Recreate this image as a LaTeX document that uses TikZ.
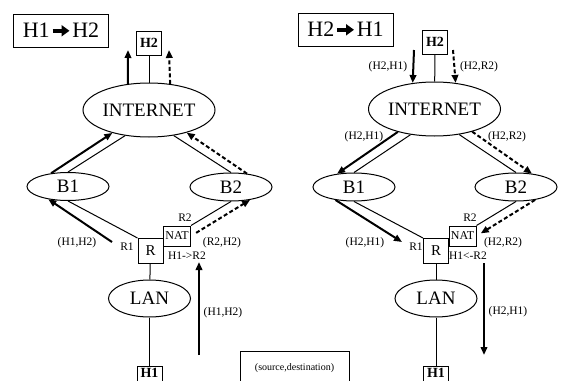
\documentclass[tikz,border=0pt]{standalone}
\usepackage{fontspec}
\setmainfont{Liberation Serif}
\usetikzlibrary{arrows.meta,shapes.geometric}
\newcommand\ttlarrow{\kern1pt\tikz[baseline=-7pt]\draw[line width=3.5pt,-{Triangle[length=8pt,width=11pt]}] (0pt,0pt)--(17pt,0pt);\kern1pt}
\begin{document}
\begin{tikzpicture}[x=1pt,y=-1pt,
  thinline/.style={line width=1pt},
  flow/.style={line width=2pt,-{Triangle[length=8pt,width=6.5pt]}},
  dflow/.style={flow,dash pattern=on 4pt off 2.5pt},
  oval/.style={draw,ellipse,line width=1pt,inner sep=0pt,font=\fontsize{19}{19}\selectfont},
  titlebox/.style={draw,line width=1pt,inner sep=0pt,minimum width=95pt,minimum height=33pt,font=\fontsize{22}{22}\selectfont},
  host/.style={draw,line width=1pt,inner sep=0pt,minimum width=25pt,minimum height=24pt,font=\bfseries\fontsize{14}{14}\selectfont},
  hostcut/.style={host,anchor=north,minimum height=0pt,inner ysep=2pt,text height=9pt,text depth=12pt},
  rbox/.style={draw,line width=1pt,inner sep=0pt,minimum width=25pt,minimum height=25pt,font=\fontsize{15}{15}\selectfont},
  natbox/.style={draw,line width=1pt,inner sep=0pt,minimum width=27pt,minimum height=20pt,anchor=west,font=\fontsize{12}{12}\selectfont},
  lbl/.style={inner sep=0pt,font=\fontsize{11.5}{11.5}\selectfont},
]
\useasboundingbox (0,0) rectangle (567,380);

% ---------------- left panel: H1 -> H2 ----------------
\node[titlebox] (t1) at (61,30.5) {H1\ttlarrow H2};
\node[host] (h2l) at (149,43) {H2};
\node[oval,minimum width=132pt,minimum height=54pt] (intl) at (149,110) {INTERNET};
\node[oval,minimum width=82pt,minimum height=28pt] (b1l) at (68,186.5) {B1};
\node[oval,minimum width=82pt,minimum height=28pt] (b2l) at (231,187) {B2};
\node[rbox] (rl) at (150.5,251) {R};
\node[natbox] (natl) at (163,236) {NAT};
\node[oval,minimum width=82pt,minimum height=37pt] (lanl) at (149.5,298.5) {LAN};
\node[hostcut] (h1l) at (149.5,366) {H1};

\draw[thinline] (h2l) -- (intl);
\draw[thinline] (intl.227) -- (b1l.north);
\draw[thinline] (intl.-46) -- (b2l.north);
\draw[thinline] (rl.north west) -- (b1l.south);
\draw[thinline] (natl.north east) -- (b2l.south);
\draw[thinline] (rl) -- (lanl);
\draw[thinline] (lanl) -- (h1l);

\coordinate (upl1) at (128,50);
\coordinate (upl2) at (169,50);
\coordinate (al1) at (112,242);
\coordinate (ul1) at (199,355);
\coordinate (ul2) at (199,262);
\draw[flow] (intl.129) -- (upl1);
\draw[dflow] (intl.51) -- (upl2);
\draw[flow] (b1l.142) -- (intl.212);
\draw[dflow] (b2l.40) -- (intl.-31);
\draw[flow] (al1) -- (b1l.213);
\draw[dflow,shorten <=6pt] (natl.east) -- (b2l.-34);
\draw[flow] (ul1) -- (ul2);

\node[lbl] (r1l) at (127,247) {R1};
\node[lbl] (r2l) at (185,218) {R2};
\node[lbl] (hl1) at (77,243) {(H1,H2)};
\node[lbl] (hl2) at (222,243) {(R2,H2)};
\node[lbl] (hl3) at (187,256) {H1->R2};
\node[lbl] (hl4) at (223,313) {(H1,H2)};

\node[draw,line width=0.8pt,anchor=north,minimum width=109pt,inner xsep=0pt,inner ysep=10pt,text height=9pt,text depth=10pt,font=\fontsize{10}{10}\selectfont] (leg) at (294.5,351) {(source,destination)};

% ---------------- right panel: H2 -> H1 ----------------
\node[titlebox] (t2) at (345.5,29.5) {H2\ttlarrow H1};
\node[host] (h2r) at (435,42) {H2};
\node[oval,minimum width=132pt,minimum height=54pt] (intr) at (434.5,109) {INTERNET};
\node[oval,minimum width=82pt,minimum height=28pt] (b1r) at (354,187) {B1};
\node[oval,minimum width=82pt,minimum height=28pt] (b2r) at (516,187) {B2};
\node[rbox] (rr) at (436,251) {R};
\node[natbox] (natr) at (448.5,236) {NAT};
\node[oval,minimum width=82pt,minimum height=37pt] (lanr) at (436,298.5) {LAN};
\node[hostcut] (h1r) at (436,366) {H1};

\draw[thinline] (h2r) -- (intr);
\draw[thinline] (intr.227) -- (b1r.north);
\draw[thinline] (intr.-46) -- (b2r.north);
\draw[thinline] (rr.north west) -- (b1r.south);
\draw[thinline] (natr.north east) -- (b2r.south);
\draw[thinline] (rr) -- (lanr);
\draw[thinline] (lanr) -- (h1r);

\coordinate (dr1) at (414,50);
\coordinate (dr2) at (453,50);
\coordinate (ar1) at (402,242);
\coordinate (dd1) at (484,263);
\coordinate (dd2) at (484,355);
\draw[flow] (dr1) -- (intr.130);
\draw[dflow] (dr2) -- (intr.51);
\draw[flow] (intr.212) -- (b1r.142);
\draw[dflow] (intr.-31) -- (b2r.40);
\draw[flow] (b1r.215) -- (ar1);
\draw[dflow,shorten >=5pt] (b2r.-34) -- (natr.east);
\draw[flow] (dd1) -- (dd2);

\node[lbl] (lr1) at (388,67) {(H2,H1)};
\node[lbl] (lr2) at (479,67) {(H2,R2)};
\node[lbl] (lr3) at (364,137) {(H2,H1)};
\node[lbl] (lr4) at (507,137) {(H2,R2)};
\node[lbl] (r1r) at (416,247) {R1};
\node[lbl] (r2r) at (470,218) {R2};
\node[lbl] (lr5) at (365,243) {(H2,H1)};
\node[lbl] (lr6) at (503,243) {(H2,R2)};
\node[lbl] (lr7) at (468,256) {H1<-R2};
\node[lbl] (lr8) at (508,312) {(H2,H1)};
\end{tikzpicture}
\end{document}
